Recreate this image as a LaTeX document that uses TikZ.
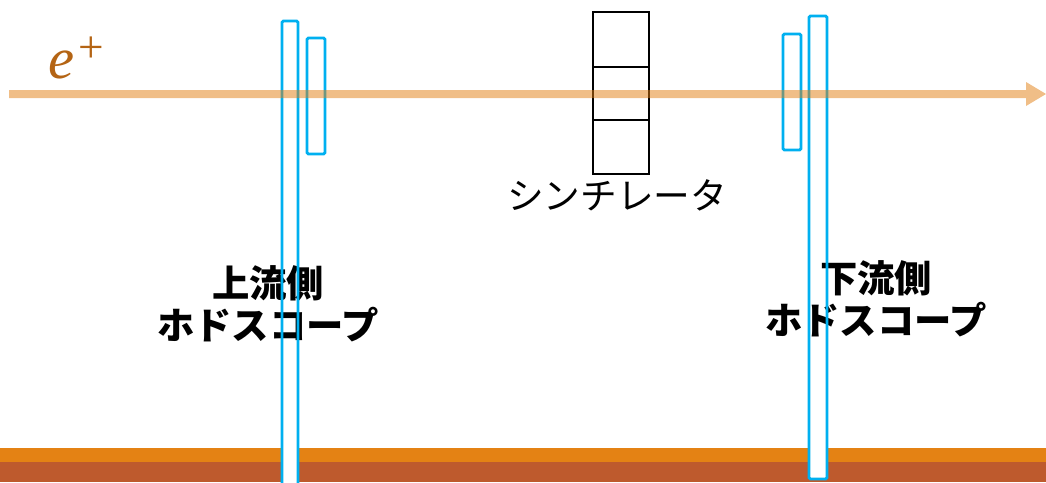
\documentclass[tikz,border=0pt]{standalone}
\usepackage{fontspec}
\newfontfamily\jpfont{Noto Sans CJK JP}
\newfontfamily\efont{Liberation Serif}
\definecolor{beamcol}{RGB}{225,125,15}
\definecolor{hodo}{RGB}{0,176,240}
\definecolor{stripeA}{RGB}{228,130,20}
\definecolor{stripeB}{RGB}{190,90,45}
\definecolor{ecol}{RGB}{180,100,20}
\tikzset{
  barfill/.style={fill=white,draw=none},
  barline/.style={draw=hodo,line width=2.8pt*0.75,rounded corners=1pt},
  scint/.style={draw=black,line width=2.2pt*0.75},
  label/.style={font=\jpfont\bfseries\fontsize{28}{31.5}\selectfont,align=center,inner sep=0pt},
}
\begin{document}
\begin{tikzpicture}[x=0.75pt,y=-0.75pt]
\useasboundingbox (0,0) rectangle (1046,482);
\begin{scope}
\clip (0,0) rectangle (1046,482);
% ground stripes
\fill[stripeA] (0,448) rectangle (1046,462);
\fill[stripeB] (0,462) rectangle (1046,482);
% bar fills
\path[barfill] (282,21) rectangle (298,490);
\path[barfill] (809,16) rectangle (827,479);
% labels
\node[label] (uplab) at (268,304) {上流側\\ホドスコープ};
\node[label] (dnlab) at (876,299) {下流側\\ホドスコープ};
% hodoscope outlines
\draw[barline] (282,21) rectangle (298,490);
\draw[barline] (307,38) rectangle (325,154);
\draw[barline] (783,34) rectangle (801,150);
\draw[barline] (809,16) rectangle (827,479);
\end{scope}
% scintillator
\draw[scint] (593,12) rectangle (649,174);
\draw[scint] (593,67) -- (649,67);
\draw[scint] (593,120) -- (649,120);
\node[font=\jpfont\fontsize{27.5}{30}\selectfont,inner sep=0pt] (scilab) at (617,195) {シンチレータ};
% beam
\path[fill=beamcol,opacity=0.5] (9,90) -- (1026,90) -- (1026,82) -- (1046,94) -- (1026,106) -- (1026,98) -- (9,98) -- cycle;
\node[text=ecol,inner sep=0pt,anchor=base west] (eplus) at (48,78)
  {\efont\fontsize{44}{48}\selectfont\itshape e\kern3pt\raisebox{12pt}{\upshape\fontsize{34}{36}\selectfont +}};
\end{tikzpicture}
\end{document}
